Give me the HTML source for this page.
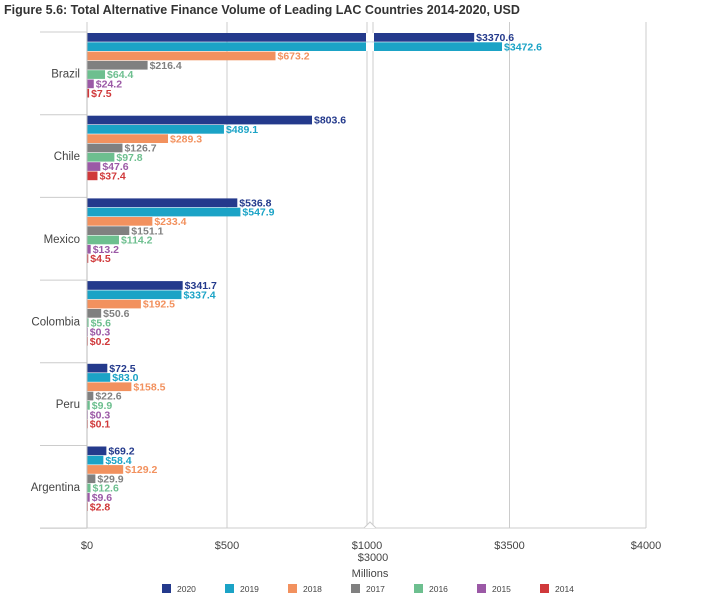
<!DOCTYPE html>
<html><head><meta charset="utf-8"><style>
body{margin:0;background:#fff;font-family:"Liberation Sans",sans-serif;}
svg text{font-family:"Liberation Sans",sans-serif;}
</style></head><body>
<svg width="716" height="601" id="c">
<text x="4" y="14" font-size="12.5" font-weight="bold" fill="#333">Figure 5.6: Total Alternative Finance Volume of Leading LAC Countries 2014-2020, USD</text>
</svg>
<script>
const countries=["Brazil","Chile","Mexico","Colombia","Peru","Argentina"];
const years=["2020","2019","2018","2017","2016","2015","2014"];
const v2020=[3370.6,803.6,536.8,341.7,72.5,69.2];
const v2019=[3472.6,489.1,547.9,337.4,83.0,58.4];
const v2018=[673.2,289.3,233.4,192.5,158.5,129.2];
const v2017=[216.4,126.7,151.1,50.6,22.6,29.9];
const v2016=[64.4,97.8,114.2,5.6,9.9,12.6];
const v2015=[24.2,47.6,13.2,0.3,0.3,9.6];
const v2014=[7.5,37.4,4.5,0.2,0.1,2.8];
const ticks=[0,500,1000,3000,3500,4000];
const tickLabels=["$0","$500","$1000","$3000","$3500","$4000"];
const series=[v2020,v2019,v2018,v2017,v2016,v2015,v2014];
const colors=["#243a8c","#1ba3c6","#f2915e","#808080","#6dbf8f","#9b59a6","#d0393b"];
const svg=document.getElementById('c');const NS="http://www.w3.org/2000/svg";
function x(v){return v<=1000?87+v*0.28:373+(v-3000)*0.2730;}
const top0=32,gh=82.7,bh=9.3;
function mk(t,a,p){const e=document.createElementNS(NS,t);for(const k in a)e.setAttribute(k,a[k]);(p||svg).appendChild(e);return e;}
// gridlines
ticks.forEach((t,i)=>{const g=mk('line',{x1:x(t),x2:x(t),y1:22,y2:528,stroke:'#ccc','stroke-width':1});


const lb=mk('text',{x:x(t),y:t==3000?561:549,'font-size':11,fill:'#444','text-anchor':'middle'});lb.textContent=tickLabels[i];

});
countries.forEach((c,ci)=>{const gy=top0+ci*gh;
const sep=mk('line',{x1:40,x2:87,y1:gy+gh,y2:gy+gh,stroke:'#ccc'});


const cl=mk('text',{x:80,y:gy+gh/2+4,'font-size':11.5,fill:'#444','text-anchor':'end'});cl.textContent=c;


series.forEach((s,si)=>{const y=gy+1+si*bh;const w=Math.max(x(s[ci])-87,0.8);
const r=mk('rect',{x:87,y:y,width:w,height:bh-0.6,fill:colors[si]});


const t=mk('text',{x:87+w+2,y:y+8,'font-size':10.5,'font-weight':'bold',fill:colors[si]});t.textContent='$'+s[ci].toFixed(1);


if(s[ci]>3000){const b=mk('rect',{x:366,y:y,width:8,height:bh-0.6,fill:'#fff'});}
});});
const ax=mk('line',{x1:87,x2:87,y1:32,y2:528,stroke:'#bbb'});
const bx=mk('line',{x1:40,x2:646,y1:528,y2:528,stroke:'#ccc'});
const tl=mk('line',{x1:40,x2:87,y1:32,y2:32,stroke:'#ccc'});
const cr=mk('path',{d:'M364 528 L370 522 L376 528',fill:'#fff',stroke:'#ccc'});
const mt=mk('text',{x:370,y:577,'font-size':11,fill:'#444','text-anchor':'middle'});mt.textContent='Millions';
years.forEach((yr,i)=>{const lx=162+i*63;const g=mk('g',{});


mk('rect',{x:lx,y:584,width:9,height:9,fill:colors[i]},g);
const t=mk('text',{x:lx+15,y:592,'font-size':8.5,fill:'#444'},g);t.textContent=yr;});
</script>
</body></html>
